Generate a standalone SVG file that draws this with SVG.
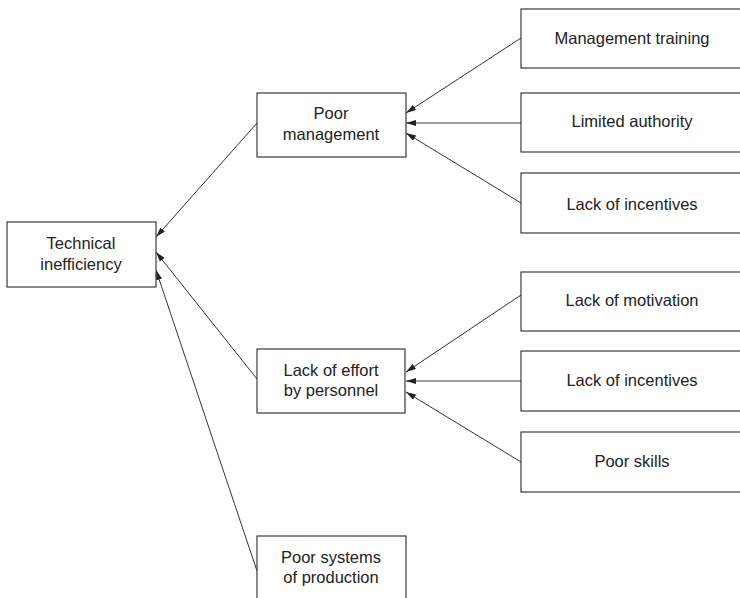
<svg xmlns="http://www.w3.org/2000/svg" width="740" height="598" viewBox="0 0 740 598">
  <style>
    .box { fill: #ffffff; stroke: #3a3a3a; stroke-width: 1.2; }
    .lbl { font-family: "Liberation Sans", Arial, sans-serif; font-size: 16.5px; fill: #222222; text-anchor: middle; }
    .edge { stroke: #333333; stroke-width: 1; fill: none; marker-end: url(#arrow); }
  </style>
  <defs>
    <marker id="arrow" viewBox="0 0 10 6" refX="10" refY="3" markerWidth="10" markerHeight="6" markerUnits="userSpaceOnUse" orient="auto">
      <path d="M0,0 L10,3 L0,6 Z" fill="#222222"/>
    </marker>
  </defs>
  <rect width="740" height="598" fill="#ffffff"/>

  <g id="connectors">
    <line class="edge" x1="257" y1="123" x2="156" y2="237"/>
    <line class="edge" x1="257" y1="379" x2="156" y2="252"/>
    <line class="edge" x1="257" y1="571" x2="156" y2="270"/>
    <line class="edge" x1="521" y1="38" x2="406" y2="113"/>
    <line class="edge" x1="521" y1="123" x2="406" y2="123"/>
    <line class="edge" x1="521" y1="203" x2="406" y2="133"/>
    <line class="edge" x1="521" y1="295" x2="406" y2="372"/>
    <line class="edge" x1="521" y1="381" x2="406" y2="381"/>
    <line class="edge" x1="521" y1="462" x2="406" y2="392"/>
  </g>

  <g id="technical-inefficiency">
    <rect class="box" x="7" y="222" width="149" height="65"/>
    <text class="lbl" x="81" y="249">Technical</text>
    <text class="lbl" x="81" y="270">inefficiency</text>
  </g>

  <g id="poor-management">
    <rect class="box" x="257" y="93" width="149" height="64"/>
    <text class="lbl" x="331" y="119">Poor</text>
    <text class="lbl" x="331" y="140">management</text>
  </g>

  <g id="lack-of-effort">
    <rect class="box" x="257" y="349" width="148" height="64"/>
    <text class="lbl" x="331" y="376">Lack of effort</text>
    <text class="lbl" x="331" y="396">by personnel</text>
  </g>

  <g id="poor-systems">
    <rect class="box" x="257" y="536" width="149" height="80"/>
    <text class="lbl" x="331" y="563">Poor systems</text>
    <text class="lbl" x="331" y="583">of production</text>
  </g>

  <g id="management-training">
    <rect class="box" x="521" y="9" width="240" height="59"/>
    <text class="lbl" x="632" y="44">Management training</text>
  </g>

  <g id="limited-authority">
    <rect class="box" x="521" y="93" width="240" height="59"/>
    <text class="lbl" x="632" y="127">Limited authority</text>
  </g>

  <g id="lack-of-incentives-1">
    <rect class="box" x="521" y="173" width="240" height="60"/>
    <text class="lbl" x="632" y="210">Lack of incentives</text>
  </g>

  <g id="lack-of-motivation">
    <rect class="box" x="521" y="272" width="240" height="59"/>
    <text class="lbl" x="632" y="306">Lack of motivation</text>
  </g>

  <g id="lack-of-incentives-2">
    <rect class="box" x="521" y="351" width="240" height="60"/>
    <text class="lbl" x="632" y="386">Lack of incentives</text>
  </g>

  <g id="poor-skills">
    <rect class="box" x="521" y="432" width="240" height="60"/>
    <text class="lbl" x="632" y="467">Poor skills</text>
  </g>
</svg>
